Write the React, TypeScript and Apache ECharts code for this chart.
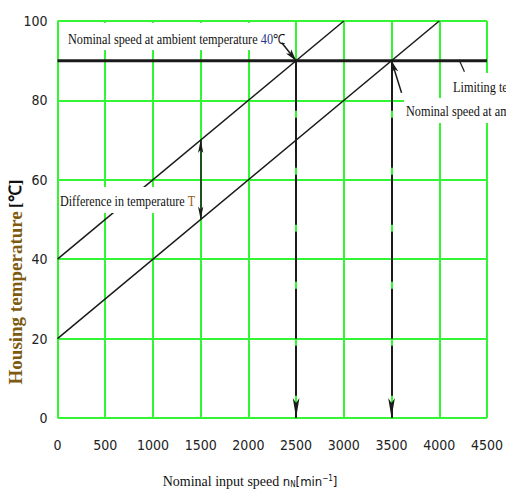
import React, { useEffect, useRef } from "react";
import * as echarts from "echarts";

// ---- data ----
const xMin = 0;
const xMax = 4500;
const xStep = 500;
const yMin = 0;
const yMax = 100;
const yStep = 20;
// housing temperature vs nominal input speed
const upperLine = [[0, 40], [3000, 100]]; // ambient 40 °C
const lowerLine = [[0, 20], [4000, 100]]; // ambient 20 °C
const limitingTemp = 90;
const nominalSpeeds = [2500, 3500];
const diffSpeed = 1500;
const diffTemps = [70, 50];
// annotation leader lines [start, end] in data units
const leader40 = [[2350, 94.5], [2500, 90]];
const leader20 = [[3605, 81.9], [3500, 90]];
const leaderLimit = [[4212, 90], [4264, 87.2]];

const GREEN = "#33f533";
const INK = "#1a1a1a";
const SERIF = '"Liberation Serif", "Times New Roman", serif';
const NARROW = '"DejaVu Sans Condensed", "Liberation Sans Narrow", "Liberation Sans", sans-serif';

export default function App() {
  const ref = useRef<HTMLDivElement>(null);
  useEffect(() => {
    if (!ref.current) return;
    const chart = echarts.init(ref.current, undefined, { renderer: "svg" });
    const option: any = {
      animation: false,
      backgroundColor: "#ffffff",
      grid: { left: 57.5, right: 11, top: 21, bottom: 77, containLabel: false },
      xAxis: {
        type: "value",
        min: xMin,
        max: xMax,
        interval: xStep,
        axisLine: { show: false },
        axisTick: { show: false },
        splitLine: { show: true, lineStyle: { color: GREEN, width: 2 } },
        axisLabel: {
          margin: 20,
          fontFamily: NARROW,
          fontSize: 14,
          color: "#222",
          formatter: (v: number) => String(v),
        },
      },
      yAxis: {
        type: "value",
        min: yMin,
        max: yMax,
        interval: yStep,
        axisLine: { show: false },
        axisTick: { show: false },
        splitLine: { show: true, lineStyle: { color: GREEN, width: 2 } },
        axisLabel: {
          margin: 10,
          fontFamily: NARROW,
          fontSize: 14,
          color: "#222",
          formatter: (v: number) => String(v),
        },
      },
      series: [
        {
          type: "line",
          data: upperLine,
          symbol: "none",
          lineStyle: { color: INK, width: 1.5 },
          z: 2,
        },
        {
          type: "line",
          data: lowerLine,
          symbol: "none",
          lineStyle: { color: INK, width: 1.5 },
          z: 2,
        },
        {
          type: "line",
          data: [[xMin, limitingTemp], [xMax, limitingTemp]],
          symbol: "none",
          lineStyle: { color: INK, width: 3 },
          z: 3,
        },
        {
          type: "line",
          data: [],
          z: 3,
          markLine: {
            silent: true,
            animation: false,
            label: { show: false },
            lineStyle: { color: INK, width: 2, type: [50, 7] },
            symbol: ["none", "arrow"],
            symbolSize: [5, 20],
            data: nominalSpeeds.map((s) => [
              { coord: [s, limitingTemp] },
              { coord: [s, yMin] },
            ]),
          },
        },
        {
          type: "line",
          data: [],
          z: 3,
          markLine: {
            silent: true,
            animation: false,
            label: { show: false },
            lineStyle: { color: INK, width: 1.5, type: "solid" },
            symbol: ["arrow", "arrow"],
            symbolSize: [4, 13],
            data: [[{ coord: [diffSpeed, diffTemps[0]] }, { coord: [diffSpeed, diffTemps[1]] }]],
          },
        },
        {
          type: "line",
          data: [],
          z: 4,
          markLine: {
            silent: true,
            animation: false,
            label: { show: false },
            lineStyle: { color: INK, width: 1.5, type: "solid" },
            symbol: ["none", "arrow"],
            symbolSize: [5, 12],
            data: [
              [{ coord: leader40[0] }, { coord: leader40[1] }],
              [{ coord: leader20[0] }, { coord: leader20[1] }],
            ],
          },
        },
        {
          type: "line",
          data: [],
          z: 4,
          markLine: {
            silent: true,
            animation: false,
            label: { show: false },
            lineStyle: { color: INK, width: 1.2, type: "solid" },
            symbol: ["none", "none"],
            data: [[{ coord: leaderLimit[0] }, { coord: leaderLimit[1] }]],
          },
        },
      ],
      graphic: [
        // label boxes
        { type: "rect", z: 1, shape: { x: 59, y: 23, width: 236, height: 27 }, style: { fill: "#fff" } },
        { type: "rect", z: 1, shape: { x: 441, y: 73, width: 70, height: 26 }, style: { fill: "#fff" } },
        { type: "rect", z: 1, shape: { x: 404, y: 98, width: 110, height: 25 }, style: { fill: "#fff" } },
        { type: "rect", z: 10, shape: { x: 59, y: 187, width: 138, height: 26 }, style: { fill: "#fff" } },
        {
          type: "text",
          z: 11,
          x: 68,
          y: 39,
          scaleX: 0.875,
          style: {
            text: "{a|Nominal speed at ambient temperature }{b|40}{a|℃}",
            rich: {
              a: { fontFamily: SERIF, fontSize: 14, fill: "#111" },
              b: { fontFamily: SERIF, fontSize: 14, fill: "#26318a" },
            },
            verticalAlign: "middle",
            align: "left",
          },
        },
        {
          type: "text",
          z: 11,
          x: 60,
          y: 201,
          scaleX: 0.865,
          style: {
            text: "{a|Difference in temperature }{b|T}",
            rich: {
              a: { fontFamily: SERIF, fontSize: 14, fill: "#111" },
              b: { fontFamily: SERIF, fontSize: 14, fill: "#9a5b10" },
            },
            verticalAlign: "middle",
            align: "left",
          },
        },
        {
          type: "text",
          z: 11,
          x: 453,
          y: 87,
          scaleX: 0.875,
          style: {
            text: "Limiting temperature",
            font: `14px ${SERIF}`,
            fill: "#111",
            verticalAlign: "middle",
            align: "left",
          },
        },
        {
          type: "text",
          z: 11,
          x: 406,
          y: 111,
          scaleX: 0.875,
          style: {
            text: "Nominal speed at ambient temperature 20℃",
            font: `14px ${SERIF}`,
            fill: "#111",
            verticalAlign: "middle",
            align: "left",
          },
        },
        // axis titles
        {
          type: "text",
          z: 11,
          x: 15,
          y: 282,
          rotation: Math.PI / 2,
          style: {
            text: "{a|Housing temperature} {b|[℃]}",
            rich: {
              a: { fontFamily: SERIF, fontWeight: "bold", fontSize: 19, fill: "#7d5a10" },
              b: { fontFamily: SERIF, fontWeight: "bold", fontSize: 17, fill: "#111" },
            },
            align: "center",
            verticalAlign: "middle",
          },
        },
        {
          type: "text",
          z: 11,
          x: 250,
          y: 481,
          style: {
            text: "{a|Nominal input speed }{b|n}{s|N}{b|[min}{t|−1}{b|]}",
            rich: {
              a: { fontFamily: SERIF, fontSize: 14, fill: "#111" },
              b: { fontFamily: NARROW, fontSize: 13, fill: "#111" },
              s: { fontFamily: NARROW, fontSize: 8, fill: "#111", verticalAlign: "bottom" },
              t: { fontFamily: NARROW, fontSize: 8, fill: "#111", verticalAlign: "top" },
            },
            align: "center",
            verticalAlign: "middle",
          },
        },
      ],
    };
    chart.setOption(option);
    return () => chart.dispose();
  }, []);
  return (
    <div
      ref={ref}
      style={{ position: "fixed", left: 0, top: 0, width: 506, height: 495, background: "#fff" }}
    />
  );
}
